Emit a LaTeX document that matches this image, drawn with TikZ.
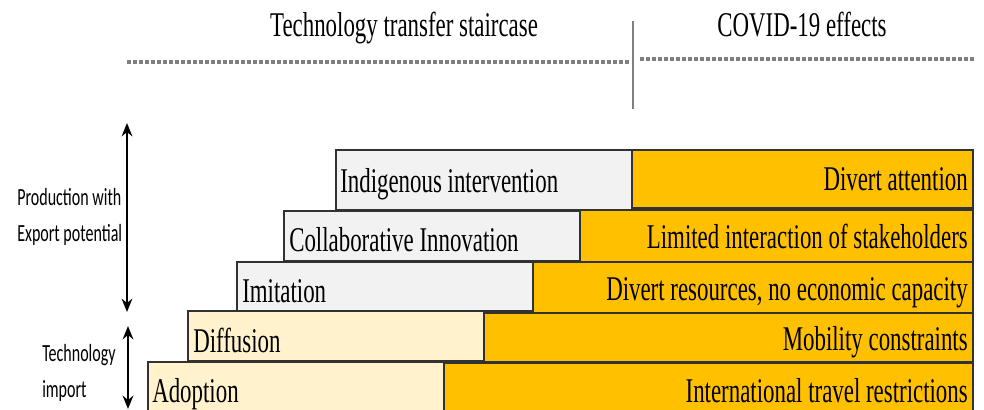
\documentclass[tikz,border=0pt]{standalone}
\usepackage{fontspec}
\setmainfont{Liberation Serif}[FakeStretch=0.66]
\newfontfamily\sidefont{Carlito}[FakeStretch=0.65]
\usetikzlibrary{arrows.meta}
\definecolor{boxgray}{RGB}{242,242,242}
\definecolor{boxcream}{RGB}{255,242,204}
\definecolor{covidorange}{RGB}{255,192,0}
\definecolor{edgegray}{RGB}{50,50,50}
\definecolor{rulegray}{RGB}{128,128,128}

\begin{document}
\begin{tikzpicture}[x=0.75pt,y=0.75pt,yscale=-1,
  stairbox/.style={draw=edgegray,line width=1pt},
  stairtext/.style={font=\fontsize{26}{30}\selectfont,inner sep=0pt},
  sidetext/.style={font=\sidefont\fontsize{18.5}{27.5}\selectfont,inner sep=0pt,align=left},
  levelarrow/.style={{Stealth[length=10pt,width=8pt]}-{Stealth[length=10pt,width=8pt]},line width=2.2pt},
  headrule/.style={draw=rulegray,line width=2.5pt,dash pattern=on 3pt off 1.5pt}]
\clip (0,0) rectangle (984,410);

%Shape: Rectangle (COVID-19 effects)
\draw [stairbox,fill=covidorange] (632,150) rectangle (973,208);
\draw [stairbox,fill=covidorange] (580,210) rectangle (973,262);
\draw [stairbox,fill=covidorange] (533,262) rectangle (973,313);
\draw [stairbox,fill=covidorange] (484,313) rectangle (973,362);
\draw [stairbox,fill=covidorange] (444,363) rectangle (973,416);
%Shape: Rectangle (staircase)
\draw [stairbox,fill=boxgray] (336,150) rectangle (632,210);
\draw [stairbox,fill=boxgray] (284,211) rectangle (580,261);
\draw [stairbox,fill=boxgray] (237,262) rectangle (533,311);
\draw [stairbox,fill=boxcream] (188,311) rectangle (484,361);
\draw [stairbox,fill=boxcream] (148,362) rectangle (444,416);

%Straight Lines (header)
\draw [headrule] (127,62) -- (631,62) ;
\draw [headrule] (640,59) -- (975,59) ;
\draw [draw=rulegray,line width=1.5pt] (633,21) -- (633,109) ;

%Straight Lines (levels)
\coordinate (exptop) at (127,123);
\coordinate (expbot) at (127,312);
\coordinate (imptop) at (128,326);
\coordinate (impbot) at (128,409);
\draw [levelarrow] (exptop) -- (expbot) ;
\draw [levelarrow] (imptop) -- (impbot) ;

% Text Node
\draw (404,37) node [anchor=base][stairtext] (stairhead) {Technology transfer staircase};
% Text Node
\draw (802,37) node [anchor=base][stairtext] (covidhead) {COVID-19 effects};
% Text Node
\draw (17,217) node [anchor=west][sidetext] (export) {Production with\\Export potential};
% Text Node
\draw (42,373) node [anchor=west][sidetext] (import) {Technology\\import};

% Text Node
\draw (340,192) node [anchor=base west][stairtext] (indig) {Indigenous intervention};
% Text Node
\draw (289,251) node [anchor=base west][stairtext] (collab) {Collaborative Innovation};
% Text Node
\draw (242,302) node [anchor=base west][stairtext] (imit) {Imitation};
% Text Node
\draw (193,352) node [anchor=base west][stairtext] (diffu) {Diffusion};
% Text Node
\draw (152,402) node [anchor=base west][stairtext] (adopt) {Adoption};

% Text Node
\draw (968,190) node [anchor=base east][stairtext] (attention) {Divert attention};
% Text Node
\draw (968,248) node [anchor=base east][stairtext] (stakeh) {Limited interaction of stakeholders};
% Text Node
\draw (968,300) node [anchor=base east][stairtext] (resource) {Divert resources, no economic capacity};
% Text Node
\draw (968,350) node [anchor=base east][stairtext] (mobility) {Mobility constraints};
% Text Node
\draw (968,402) node [anchor=base east][stairtext] (travel) {International travel restrictions};

\end{tikzpicture}
\end{document}
